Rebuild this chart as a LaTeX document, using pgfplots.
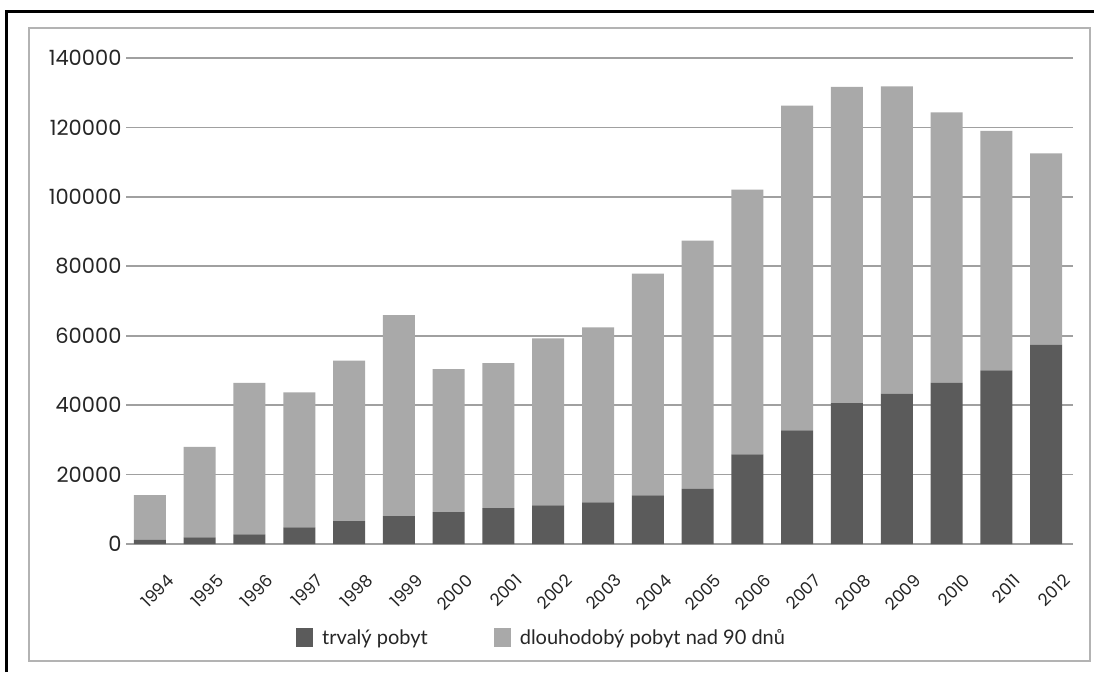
\documentclass[border=0pt]{standalone}
\usepackage{fontspec}
\setmainfont{Poppins}
\newfontfamily\legendfont{Lato}
\usepackage{pgfplots}
\pgfplotsset{compat=1.18}
\usepackage{pgfplotstable}

\definecolor{darkbar}{HTML}{5B5B5B}
\definecolor{lightbar}{HTML}{A9A9A9}
\definecolor{gridgray}{HTML}{A0A0A0}

% year  trvaly  dlouhodoby
\pgfplotstableread{
x  trvaly  dlouho
0   1200   12900
1   1900   26100
2   2800   43600
3   4800   38900
4   6600   46200
5   8000   57900
6   9200   41200
7  10300   41800
8  11100   48100
9  12000   50400
10 14000   63900
11 15900   71500
12 25800   76300
13 32700   93600
14 40600   91100
15 43300   88500
16 46400   77900
17 50000   69000
18 57400   55100
}\pobyt

\begin{document}
\begin{tikzpicture}
\useasboundingbox (0,0) rectangle (1094pt,672pt);
\fill[white] (0,0) rectangle (1094pt,672pt);
% frames of the photographed page
\draw[gridgray!80, line width=1.2pt] (29pt,11pt) rectangle (1090pt,644pt);
\draw[black, line width=3pt] (6pt,0pt) -- (6pt,660pt) -- (1094pt,660pt);
\begin{axis}[
    at={(126pt,128pt)}, anchor=south west,
    scale only axis,
    width=947pt, height=486pt,
    ybar stacked,
    bar width=32pt,
    xmin=-0.48, xmax=18.54,
    ymin=0, ymax=140000,
    ytick={0,20000,...,140000},
    xtick=data,
    xticklabels={1994,1995,1996,1997,1998,1999,2000,2001,2002,2003,2004,2005,2006,2007,2008,2009,2010,2011,2012},
    axis line style={draw=none},
    major tick length=0pt,
    ymajorgrids,
    grid style={gridgray, line width=1.8pt},
    scaled y ticks=false,
    /pgf/number format/.cd, fixed, 1000 sep={}, assume math mode=true,
    /pgfplots/.cd,
    yticklabel style={font=\fontsize{21}{24}\selectfont, text=black!85, xshift=-1pt},
    xticklabel style={font=\fontsize{17}{20}\selectfont, text=black!85, xshift=23pt, yshift=-31pt, rotate=45, anchor=east},
    legend style={at={(axis description cs:0.1795,-0.193)}, anchor=west, draw=none, fill=none,
        inner sep=0pt, font=\legendfont\fontsize{20}{23}\selectfont, text=black!85,
        /tikz/every odd column/.append style={column sep=7pt},
        /tikz/every even column/.append style={column sep=64pt}},
    legend columns=2,
    legend image code/.code={\fill[#1] (0pt,-9pt) rectangle (17pt,10pt);},
]
\addplot[fill=darkbar, draw=none] table[x=x, y=trvaly] {\pobyt};
\addplot[fill=lightbar, draw=none] table[x=x, y=dlouho] {\pobyt};
\legend{trvalý pobyt, dlouhodobý pobyt nad 90 dnů}
\end{axis}
\end{tikzpicture}
\end{document}
